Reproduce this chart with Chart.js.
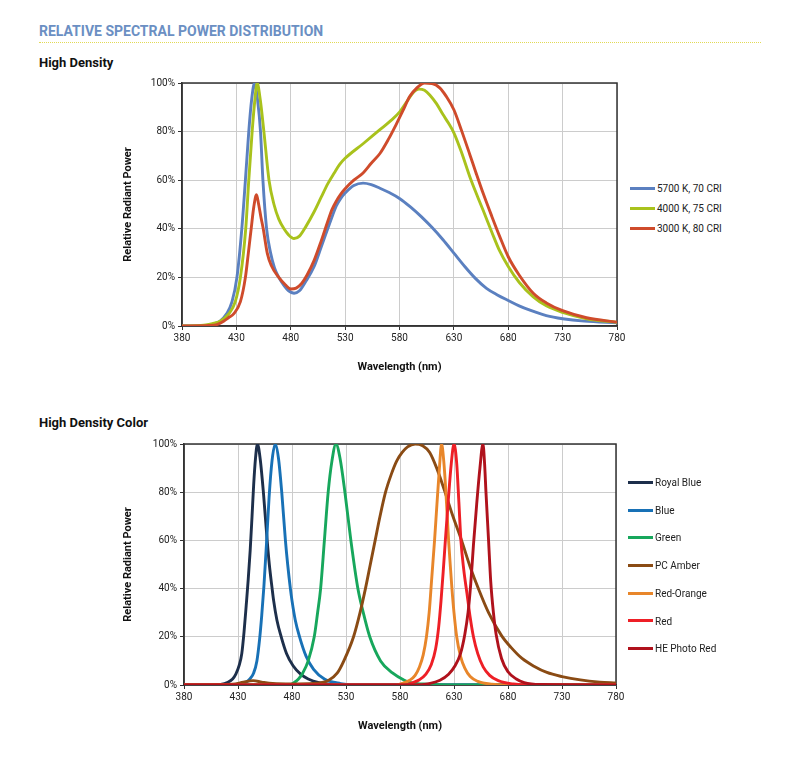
<!DOCTYPE html>
<html>
<head>
<meta charset="utf-8">
<title>Relative Spectral Power Distribution</title>
<script src="https://cdn.jsdelivr.net/npm/chart.js@4.4.0/dist/chart.umd.min.js"></script>
<style>
  body { margin: 0; background: #fff; width: 802px; height: 765px; position: relative; overflow: hidden; font-family: Roboto, "Noto Sans", sans-serif; }
  .hdr { position: absolute; left: 39px; top: 23px; font-weight: 700; font-size: 14px; color: #6b8fc3; }
  .dots { position: absolute; left: 39px; top: 42px; width: 722px; border-top: 1.5px dotted #e2da55; }
  .sub { position: absolute; left: 39px; font-weight: 700; font-size: 13px; color: #111; }
  canvas { position: absolute; }
  .legend { position: absolute; left: 0; top: 0; font-size: 10px; color: #222; }
  .legend div { position: absolute; white-space: nowrap; line-height: 12px; }
  .legend span { display: inline-block; width: 25px; height: 3px; vertical-align: middle; margin-right: 2px; position: relative; top: -1px; }
</style>
</head>
<body>
<div class="hdr">RELATIVE SPECTRAL POWER DISTRIBUTION</div>
<div class="dots"></div>
<div class="sub" style="top:55px">High Density</div>
<div class="sub" style="top:415px">High Density Color</div>
<canvas id="hdChart" width="510" height="310" style="left:120px;top:70px;width:510px;height:310px"></canvas>
<canvas id="colorChart" width="510" height="310" style="left:120px;top:430px;width:510px;height:310px"></canvas>
<div class="legend" id="hdLegend"></div>
<div class="legend" id="colorLegend"></div>
<script>
Chart.defaults.font.family = 'Roboto';

// ---- High Density (white LEDs) ----
const hdLabels = ['5700 K, 70 CRI', '4000 K, 75 CRI', '3000 K, 80 CRI'];
const hdColors = ['#5b80c0', '#a9c21c', '#cf4b2b'];

const wl5700 = [380, 398, 405, 410, 415, 421, 426, 430.5, 435, 438.3, 441.4, 444, 446.7, 449.5, 452.2, 454.4, 457.8, 461.5, 465, 469, 474, 478, 483, 488, 494, 501.5, 508, 514, 518, 522, 526, 530, 538, 546.5, 554, 562, 571, 580, 590, 600, 610, 620, 630, 640, 650, 660, 670, 680, 690, 700, 715, 730, 750, 780];
const rp5700 = [0, 0, 0.4, 1, 2, 5, 10, 20, 40, 60, 80, 93, 100, 93, 80, 60, 40, 30, 24, 20, 16.5, 14.5, 13.5, 14.5, 18.5, 24.5, 32.5, 40, 45, 49.5, 52.5, 54.7, 57.8, 58.8, 58.2, 56.7, 54.8, 52.5, 49, 45, 40.5, 35.5, 30, 24.5, 19.5, 15.5, 12.8, 10.5, 8.3, 6.5, 4.3, 3, 2, 1.3];

const wl4000 = [380, 400, 408, 415, 423, 429, 433.7, 438.6, 441.4, 444.5, 447, 449.1, 452, 455.3, 460, 464.6, 469, 473.8, 478, 483, 488, 494, 501.5, 508, 514, 520, 525, 530, 546.5, 562, 572, 580, 587, 592.5, 598, 603, 608, 614, 620, 625, 630, 637, 645, 652, 657, 665, 672, 680, 690, 703, 715, 730, 752, 780];
const rp4000 = [0, 0.3, 1, 2, 5, 10, 20, 40, 60, 80, 93, 100, 93, 80, 60, 50, 44, 40, 37.5, 36, 37, 41, 47, 53, 58.5, 63, 66.5, 69, 75, 80.8, 84.5, 88, 92.5, 96, 97.5, 97, 95, 91.5, 87, 83.5, 79.5, 71.5, 61, 53, 47.5, 38.5, 31, 24.5, 18, 12, 8.3, 5.6, 3, 1.5];

const wl3000 = [380, 405, 412, 418.3, 423, 427.5, 433.7, 438.3, 441, 443.6, 446, 448.5, 450.5, 452.5, 454.7, 458.4, 462, 469, 475, 480, 485, 490, 495, 501.5, 508, 514, 518, 522, 526, 530, 538, 546.5, 554, 562, 570, 577, 583, 589.5, 596, 603, 610, 617, 623, 630, 637, 644.7, 650, 657, 665, 672, 680, 690, 703, 715, 730, 752, 780];
const rp3000 = [0, 0.2, 0.6, 2, 3.5, 5, 10, 20, 30, 40, 49, 54, 50, 45, 40, 30, 25, 20, 17, 15.2, 15.6, 17.5, 21, 27, 35, 43, 48, 51.5, 54.3, 56.5, 60, 63, 67, 71, 77, 83, 88.5, 94.5, 98, 100, 99.8, 98, 94.5, 89, 80.5, 70.5, 63.5, 54.5, 45, 37, 28.5, 21, 13.5, 9.5, 6.3, 3.4, 1.6];

// ---- High Density Color ----
const colorLabels = ['Royal Blue', 'Blue', 'Green', 'PC Amber', 'Red-Orange', 'Red', 'HE Photo Red'];
const colorColors = ['#1d2f4b', '#1871b6', '#17a75c', '#8a4b14', '#e8862a', '#ee1f26', '#b0121c'];

const wlRoyal = [380, 410, 414, 420, 425, 428, 431, 433.5, 435.6, 437.6, 439.5, 441.3, 443, 444.5, 446.2, 448, 450.5, 453.5, 457, 459, 461.6, 463, 466, 470, 475, 481, 488, 495, 505, 520, 540, 780];
const rpRoyal = [0, 0, 0.2, 1, 2.5, 4.5, 8, 13, 22, 33, 44, 56, 70, 83, 94, 100, 94, 80, 60, 50, 40, 35, 27, 20, 13, 8, 4.5, 2.5, 1, 0.2, 0, 0];

const wlBlue = [380, 430, 437, 441, 444.5, 447.5, 450, 452, 454, 456.3, 458.8, 461.5, 464.5, 467.5, 470.5, 473.9, 476, 478.5, 480, 483, 487, 493, 500, 510, 525, 540, 780];
const rpBlue = [0, 0, 1, 2.5, 5, 10, 19, 29, 41, 58, 78, 93, 100, 94, 80, 60, 50, 40, 35, 27, 20, 12, 6.5, 2.5, 0.6, 0, 0];

const wlGreen = [380, 477, 482, 486, 490, 495, 500.6, 503.7, 506.5, 510, 513.5, 517, 520.7, 524.5, 529, 534.5, 541, 546, 552, 562, 573, 584, 590, 605, 625, 780];
const rpGreen = [0, 0, 1, 2.5, 5, 10, 20, 30, 40, 60, 80, 93, 100, 94, 80, 60, 40, 30, 20, 10, 5, 2, 1, 0.3, 0, 0];

const wlAmber = [380, 425, 435, 444, 452, 462, 480, 500, 514, 522, 528, 537, 543, 548, 552.5, 557, 561.5, 566.6, 572, 577, 582, 587, 594, 601, 607.5, 614, 621, 629, 637, 645, 653, 662, 674, 683, 693, 704, 716, 730, 747, 765, 780];
const rpAmber = [0, 0.3, 1.2, 1.8, 1.2, 0.6, 0.4, 0.6, 2, 5, 10, 20, 30, 40, 50, 60, 70, 80, 87.5, 93, 96.5, 98.8, 100, 99.3, 96.5, 90, 81, 70, 60, 49, 39.5, 30, 20.5, 15.5, 11, 7.8, 5.2, 3.5, 2.1, 1.2, 0.8];

const wlRedOrange = [380, 575, 583, 589, 594, 598, 601.5, 604.5, 607, 609.5, 612, 614.2, 616.5, 618.5, 620.5, 622.5, 625, 626.5, 628.1, 630, 632.5, 636, 640, 645, 652, 665, 680, 780];
const rpRedOrange = [0, 0, 0.8, 2, 4, 7.5, 12.5, 20, 30, 45, 60, 75, 90, 100, 93, 80, 60, 50, 40, 30, 20, 12, 7, 3.5, 1.5, 0.3, 0, 0];

const wlRed = [380, 585, 592, 598, 604, 609, 613, 615.8, 618, 620, 622, 624.6, 627.5, 630, 632.5, 634.5, 636.4, 639, 642, 645, 648, 652, 657, 663, 671, 685, 700, 780];
const rpRed = [0, 0, 1, 2.2, 4.5, 8.5, 15, 24, 35, 47, 60, 76, 92, 100, 92, 76, 60, 48, 38, 28, 20, 13, 7.5, 4, 1.8, 0.4, 0, 0];

const wlPhotoRed = [380, 595, 607, 617, 625, 631, 636, 640, 643, 645.5, 648, 651, 654, 656.8, 658.3, 659.6, 662, 664, 666.5, 669, 674, 680, 687.7, 695, 710, 780];
const rpPhotoRed = [0, 0, 0.6, 2, 4.5, 8, 13, 21, 30, 42, 58, 75, 90, 100, 92, 80, 60, 43, 30, 21, 11, 5.5, 2.5, 1, 0.2, 0];

const xTicks = [380, 430, 480, 530, 580, 630, 680, 730, 780];
const yTicks = [0, 20, 40, 60, 80, 100];

function toPoints(wl, rp) {
  return wl.map((x, i) => ({ x: x, y: rp[i] }));
}

// box round the plot area, like the spreadsheet chart
const frame = {
  id: 'frame',
  beforeDatasetsDraw(chart) {
    const a = chart.chartArea, ctx = chart.ctx;
    ctx.save();
    ctx.strokeStyle = '#333';
    ctx.lineWidth = 1.5;
    ctx.strokeRect(a.left, a.top, a.right - a.left, a.bottom - a.top);
    ctx.restore();
  }
};

function makeChart(id, series, labels, colors, yWidth, pad) {
  const n = series.length;
  const ctx = document.getElementById(id).getContext('2d');
  return new Chart(ctx, {
    type: 'line',
    data: {
      datasets: series.map((s, i) => ({
        label: labels[i],
        data: toPoints(s[0], s[1]),
        borderColor: colors[i],
        backgroundColor: colors[i],
        borderWidth: 2.9,
        pointRadius: 0,
        fill: false,
        cubicInterpolationMode: 'monotone',
        order: n - i
      }))
    },
    options: {
      responsive: false,
      animation: false,
      layout: { padding: pad },
      plugins: { legend: { display: false }, tooltip: { enabled: false } },
      scales: {
        x: {
          type: 'linear', min: 380, max: 780,
          afterBuildTicks: s => { s.ticks = xTicks.map(v => ({ value: v })); },
          ticks: { color: '#222', font: { size: 10 }, padding: 2, maxRotation: 0 },
          grid: { color: '#cccccc', tickColor: '#333', tickLength: 4 },
          border: { color: '#333', width: 1.5 },
          title: { display: true, text: 'Wavelength (nm)', color: '#111', font: { size: 11, weight: 'bold' }, padding: 0 },
          afterFit: s => { s.height = 48; }
        },
        y: {
          min: 0, max: 100,
          afterBuildTicks: s => { s.ticks = yTicks.map(v => ({ value: v })); },
          ticks: { color: '#222', font: { size: 10 }, padding: 3, callback: v => v + '%' },
          grid: { color: '#cccccc', tickColor: '#333', tickLength: 4 },
          border: { color: '#333', width: 1.5 },
          title: { display: true, text: 'Relative Radiant Power', color: '#111', font: { size: 11, weight: 'bold' }, padding: 2 },
          afterFit: s => { s.width = yWidth; }
        }
      }
    },
    plugins: [frame]
  });
}

function makeLegend(el, chart, left, top, step) {
  const box = document.getElementById(el);
  chart.data.datasets.forEach((ds, i) => {
    const row = document.createElement('div');
    row.style.left = left + 'px';
    row.style.top = (top + i * step - 6) + 'px';
    row.innerHTML = '<span style="background:' + ds.borderColor + '"></span>' + ds.label;
    box.appendChild(row);
  });
}

const hdChart = makeChart('hdChart',
  [[wl5700, rp5700], [wl4000, rp4000], [wl3000, rp3000]],
  hdLabels, hdColors, 62, { top: 13, right: 13, bottom: 6, left: 0 });

const colorChart = makeChart('colorChart',
  [[wlRoyal, rpRoyal], [wlBlue, rpBlue], [wlGreen, rpGreen], [wlAmber, rpAmber],
   [wlRedOrange, rpRedOrange], [wlRed, rpRed], [wlPhotoRed, rpPhotoRed]],
  colorLabels, colorColors, 64, { top: 14, right: 14, bottom: 7, left: 0 });

makeLegend('hdLegend', hdChart, 630, 189, 20);
makeLegend('colorLegend', colorChart, 628, 483, 27.7);
</script>
</body>
</html>
